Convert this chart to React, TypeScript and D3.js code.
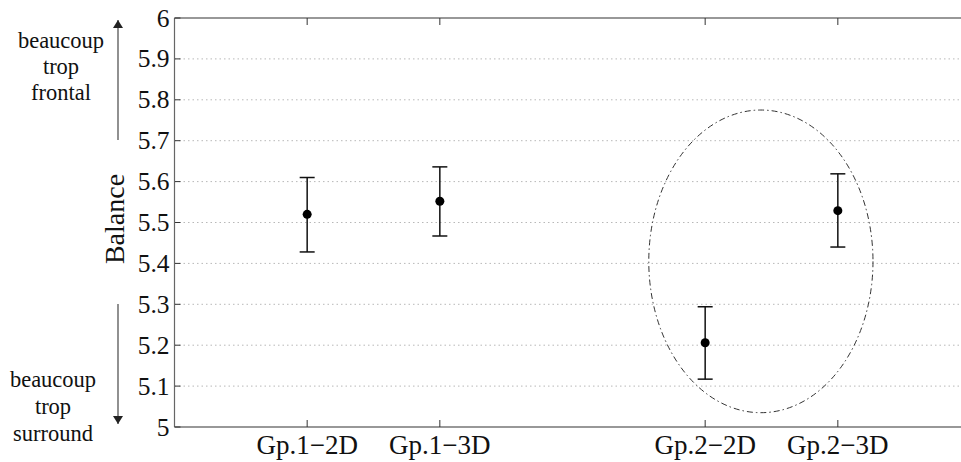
import React from "react";
import * as d3 from "d3";

const categories = ["Gp.1\u22122D", "Gp.1\u22123D", "Gp.2\u22122D", "Gp.2\u22123D"];
const xPositions = [1, 2, 4, 5];
const means = [5.52, 5.552, 5.206, 5.529];
const lowers = [5.428, 5.467, 5.117, 5.44];
const uppers = [5.61, 5.636, 5.294, 5.619];
const yTicks = [5, 5.1, 5.2, 5.3, 5.4, 5.5, 5.6, 5.7, 5.8, 5.9, 6];
const yTickLabels = ["5", "5.1", "5.2", "5.3", "5.4", "5.5", "5.6", "5.7", "5.8", "5.9", "6"];
const topNote = ["beaucoup", "trop", "frontal"];
const bottomNote = ["beaucoup", "trop", "surround"];
const ellipse = { cx: 4.42, cy: 5.405, rx: 0.845, ry: 0.37 };

const W = 961;
const H = 462;
const FONT = "Liberation Serif, DejaVu Serif, Times New Roman, serif";

export default function App() {
  const x = d3.scaleLinear().domain([0, 6]).range([174.5, 970.5]);
  const y = d3.scaleLinear().domain([5, 6]).range([427, 18]);
  const left = x(0);
  const right = x(6);
  const top = y(6);
  const bottom = y(5);
  const axisColor = "#333";
  const cap = 7.5;
  const ts = { fontFamily: FONT };

  return (
    <svg
      width={W}
      height={H}
      style={{ position: "fixed", left: 0, top: 0, background: "#fff", fontFamily: FONT }}
    >
      <rect x={0} y={0} width={W} height={H} fill="#fff" />
      {yTicks.slice(1, -1).map((t) => (
        <line
          key={"g" + t}
          x1={left}
          x2={right}
          y1={y(t)}
          y2={y(t)}
          stroke="#b8b8b8"
          strokeWidth={1}
          strokeDasharray="1.5,3"
        />
      ))}
      {yTicks.map((t, i) => (
        <g key={"yt" + t}>
          <line x1={left} x2={left + 6} y1={y(t)} y2={y(t)} stroke={axisColor} />
          <text
            x={left - 5}
            y={y(t) + 8.5}
            textAnchor="end"
            fontSize={25.5}
            fill="#111"
            style={ts}
          >
            {yTickLabels[i]}
          </text>
        </g>
      ))}
      {xPositions.map((p, i) => (
        <g key={"xt" + p}>
          <line x1={x(p)} x2={x(p)} y1={bottom} y2={bottom - 7} stroke={axisColor} />
          <line x1={x(p)} x2={x(p)} y1={top} y2={top + 7} stroke={axisColor} />
          <text x={x(p)} y={454} textAnchor="middle" fontSize={27} fill="#111" style={ts}>
            {categories[i]}
          </text>
        </g>
      ))}
      <line x1={left} x2={left} y1={top} y2={bottom} stroke="#666" strokeWidth={1.2} />
      <line x1={left} x2={right} y1={top} y2={top} stroke={axisColor} strokeWidth={1.2} />
      <line x1={left} x2={right} y1={bottom} y2={bottom} stroke={axisColor} strokeWidth={1.2} />
      <ellipse
        cx={x(ellipse.cx)}
        cy={y(ellipse.cy)}
        rx={x(ellipse.cx + ellipse.rx) - x(ellipse.cx)}
        ry={y(ellipse.cy) - y(ellipse.cy + ellipse.ry)}
        fill="none"
        stroke="#333"
        strokeWidth={1}
        strokeDasharray="6,3,1.5,3"
      />
      {xPositions.map((p, i) => (
        <g key={"eb" + p} stroke="#111" strokeWidth={1.5}>
          <line x1={x(p)} x2={x(p)} y1={y(lowers[i])} y2={y(uppers[i])} />
          <line x1={x(p) - cap} x2={x(p) + cap} y1={y(lowers[i])} y2={y(lowers[i])} />
          <line x1={x(p) - cap} x2={x(p) + cap} y1={y(uppers[i])} y2={y(uppers[i])} />
          <circle cx={x(p)} cy={y(means[i])} r={4.5} fill="#000" stroke="none" />
        </g>
      ))}
      <text
        transform="translate(124, 219) rotate(-90)"
        textAnchor="middle"
        fontSize={28}
        fill="#111"
        style={ts}
      >
        Balance
      </text>
      <defs>
        <marker id="ah" viewBox="0 0 8 10" refX={8} refY={5} markerWidth={8} markerHeight={10} markerUnits="userSpaceOnUse" orient="auto">
          <path d="M0,0 L8,5 L0,10 Z" fill="#222" />
        </marker>
      </defs>
      <line x1={118} x2={118} y1={140} y2={20} stroke="#555" strokeWidth={1.3} markerEnd="url(#ah)" />
      <line x1={118} x2={118} y1={304} y2={424} stroke="#555" strokeWidth={1.3} markerEnd="url(#ah)" />
      {topNote.map((s, i) => (
        <text key={"tn" + i} x={61} y={48 + i * 26} textAnchor="middle" fontSize={22.5} fill="#111" style={ts}>
          {s}
        </text>
      ))}
      {bottomNote.map((s, i) => (
        <text key={"bn" + i} x={53} y={387 + i * 27} textAnchor="middle" fontSize={22.5} fill="#111" style={ts}>
          {s}
        </text>
      ))}
    </svg>
  );
}
